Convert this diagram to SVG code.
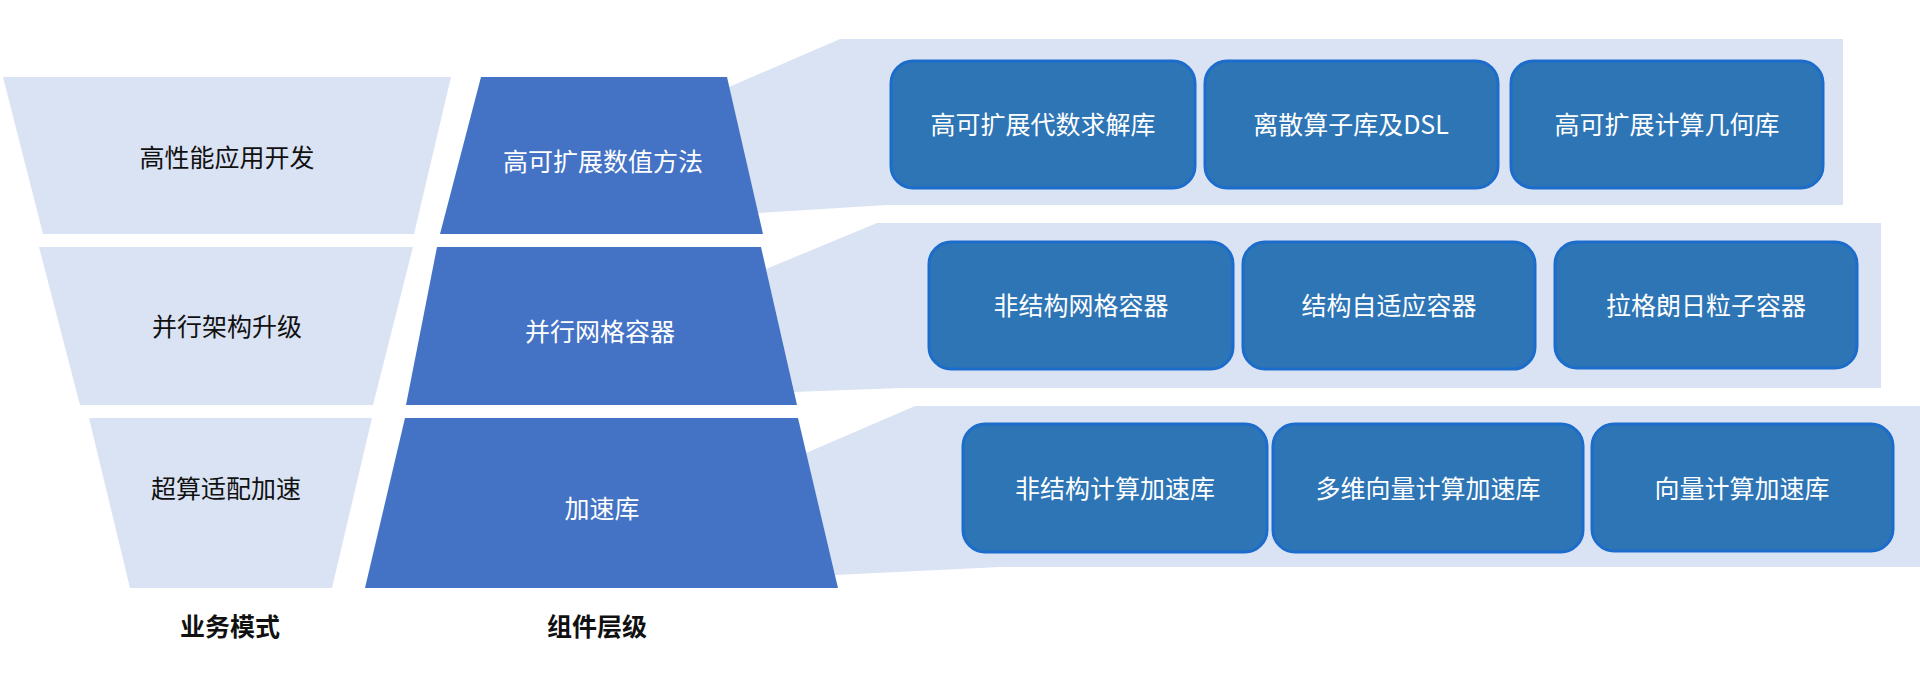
<svg xmlns="http://www.w3.org/2000/svg" width="1920" height="673" viewBox="0 0 1920 673">
  <style>
    text { font-family: "Noto Sans CJK SC", "Noto Sans", sans-serif; text-anchor: middle; dominant-baseline: central; }
    .light { fill: #DAE3F3; }
    .dark { fill: #4472C4; }
    .band { fill: #DAE3F3; }
    .box { fill: #2E75B6; stroke: #1C6CCB; stroke-width: 3; }
    .lbl { font-size: 25px; fill: #111111; }
    .wlbl { font-size: 25px; fill: #FFFFFF; }
    .axis { font-size: 25px; font-weight: bold; fill: #111111; }
  </style>
  <rect x="0" y="0" width="1920" height="673" fill="#FFFFFF"/>

  <g id="connectors">
    <polygon class="band" points="729,87 840,39 1843,39 1843,205 887,205 758,213"/>
    <polygon class="band" points="766,269 877,223 1881,223 1881,388 900,388 794,392"/>
    <polygon class="band" points="806,453 915,406 1920,406 1920,567 1000,567 835,575"/>
  </g>

  <g id="business-1">
    <polygon class="light" points="3,77 451,77 414,234 43,234"/>
    <text class="lbl" x="227" y="156">高性能应用开发</text>
  </g>
  <g id="business-2">
    <polygon class="light" points="39,247 413,247 373,405 80,405"/>
    <text class="lbl" x="227" y="325">并行架构升级</text>
  </g>
  <g id="business-3">
    <polygon class="light" points="89,418 372,418 332,588 130,588"/>
    <text class="lbl" x="226" y="487">超算适配加速</text>
  </g>
  <g id="business-label">
    <text class="axis" x="230" y="625">业务模式</text>
  </g>

  <g id="layer-1">
    <polygon class="dark" points="481,77 727,77 763,234 440,234"/>
    <text class="wlbl" x="603" y="160">高可扩展数值方法</text>
  </g>
  <g id="layer-2">
    <polygon class="dark" points="437,247 761,247 797,405 406,405"/>
    <text class="wlbl" x="600" y="330">并行网格容器</text>
  </g>
  <g id="layer-3">
    <polygon class="dark" points="405,418 798,418 838,588 365,588"/>
    <text class="wlbl" x="602" y="507">加速库</text>
  </g>
  <g id="layer-label">
    <text class="axis" x="597" y="625">组件层级</text>
  </g>

  <g id="box-1-1">
    <rect class="box" x="891" y="61" width="304" height="127" rx="22"/>
    <text class="wlbl" x="1043" y="123">高可扩展代数求解库</text>
  </g>
  <g id="box-1-2">
    <rect class="box" x="1205" y="61" width="293" height="127" rx="22"/>
    <text class="wlbl" x="1351" y="123">离散算子库及DSL</text>
  </g>
  <g id="box-1-3">
    <rect class="box" x="1511" y="61" width="312" height="127" rx="22"/>
    <text class="wlbl" x="1667" y="123">高可扩展计算几何库</text>
  </g>

  <g id="box-2-1">
    <rect class="box" x="929" y="242" width="304" height="127" rx="22"/>
    <text class="wlbl" x="1081" y="304">非结构网格容器</text>
  </g>
  <g id="box-2-2">
    <rect class="box" x="1243" y="242" width="292" height="127" rx="22"/>
    <text class="wlbl" x="1389" y="304">结构自适应容器</text>
  </g>
  <g id="box-2-3">
    <rect class="box" x="1555" y="242" width="302" height="126" rx="22"/>
    <text class="wlbl" x="1706" y="304">拉格朗日粒子容器</text>
  </g>

  <g id="box-3-1">
    <rect class="box" x="963" y="424" width="304" height="128" rx="22"/>
    <text class="wlbl" x="1115" y="487">非结构计算加速库</text>
  </g>
  <g id="box-3-2">
    <rect class="box" x="1273" y="424" width="310" height="128" rx="22"/>
    <text class="wlbl" x="1428" y="487">多维向量计算加速库</text>
  </g>
  <g id="box-3-3">
    <rect class="box" x="1592" y="424" width="301" height="127" rx="22"/>
    <text class="wlbl" x="1742" y="487">向量计算加速库</text>
  </g>
</svg>
